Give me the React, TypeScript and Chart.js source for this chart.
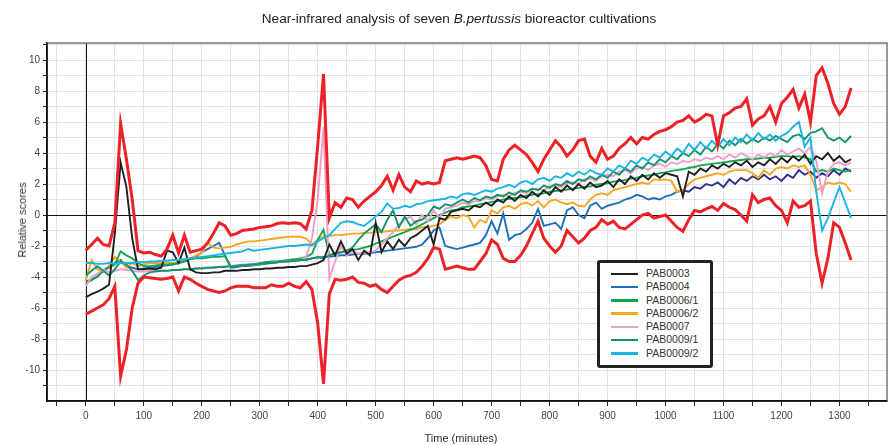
import React, { useEffect, useRef } from "react";
import { Chart, registerables } from "chart.js";

Chart.register(...registerables);

// ---- data ----
const minutes = [
  0, 10, 20, 30, 40, 50, 60, 70, 80, 90,
  100, 110, 120, 130, 140, 150, 160, 170, 180, 190,
  200, 210, 220, 230, 240, 250, 260, 270, 280, 290,
  300, 310, 320, 330, 340, 350, 360, 370, 380, 390,
  400, 410, 420, 430, 440, 450, 460, 470, 480, 490,
  500, 510, 520, 530, 540, 550, 560, 570, 580, 590,
  600, 610, 620, 630, 640, 650, 660, 670, 680, 690,
  700, 710, 720, 730, 740, 750, 760, 770, 780, 790,
  800, 810, 820, 830, 840, 850, 860, 870, 880, 890,
  900, 910, 920, 930, 940, 950, 960, 970, 980, 990,
  1000, 1010, 1020, 1030, 1040, 1050, 1060, 1070, 1080, 1090,
  1100, 1110, 1120, 1130, 1140, 1150, 1160, 1170, 1180, 1190,
  1200, 1210, 1220, 1230, 1240, 1250, 1260, 1270, 1280, 1290,
  1300, 1310, 1320,
];

const upperLimit = [
  -2.27, -1.9, -1.5, -1.9, -2.0, -0.5, 5.9, 3.6, 1.0, -2.3,
  -2.45, -2.4, -2.55, -2.65, -2.2, -1.3, -2.45, -1.3, -2.4, -2.3,
  -2.2, -1.8, -1.2, -0.5, -0.7, -1.3, -1.2, -1.0, -0.95, -0.9,
  -0.8, -0.75, -0.7, -0.55, -0.5, -0.55, -0.5, -0.55, -0.9, 0.3,
  4.5, 9.1, -0.2, 0.8, 0.5, 1.1, 1.0, 0.5, 0.9, 1.2,
  1.5, 1.9, 2.5, 1.6, 2.6, 1.8, 1.5, 2.2, 2.0, 2.1,
  2.0, 2.1, 3.5, 3.6, 3.7, 3.6, 3.7, 3.8, 3.7, 3.2,
  2.3, 2.2, 3.6, 4.2, 4.5, 4.2, 3.9, 3.4, 2.8, 3.6,
  4.2, 4.8, 4.4, 3.8, 4.2, 4.8, 4.9, 3.8, 3.4, 4.3,
  3.6, 3.8, 4.3, 4.6, 5.0, 4.6, 5.0, 4.9, 5.2, 5.4,
  5.5, 5.7, 6.0, 6.1, 6.4, 6.0, 6.2, 6.5, 6.4, 4.5,
  6.4, 6.6, 6.9, 7.0, 7.5, 5.8, 6.2, 6.4, 7.0, 6.0,
  7.2, 7.6, 8.1, 6.9, 7.8, 6.0, 9.0, 9.5, 8.5, 7.2,
  6.5, 7.0, 8.2,
];

const lowerLimit = [
  -6.4, -6.2, -6.0, -5.8, -5.4, -4.6, -10.4, -8.7, -6.0, -4.4,
  -4.0, -4.05, -4.1, -4.15, -4.1, -4.0, -4.9, -4.0, -4.15, -4.4,
  -4.6, -4.8, -4.9, -5.0, -4.9, -4.7, -4.6, -4.6, -4.6, -4.7,
  -4.7, -4.7, -4.5, -4.6, -4.6, -4.4, -4.6, -4.7, -4.3, -4.8,
  -7.0, -10.9, -5.1, -4.15, -4.2, -4.15, -4.0, -4.35, -4.4, -4.6,
  -4.5, -4.8, -5.0, -4.6, -4.2, -4.0, -3.9, -3.7, -3.3, -2.8,
  -2.1, -2.2, -3.5, -3.4, -3.3, -3.4, -3.5, -3.5, -3.0, -2.5,
  -1.6, -1.9, -2.8, -3.0, -3.0, -2.6, -2.0, -1.2, -0.4, -1.5,
  -2.0, -2.4, -2.0, -1.0, -1.4, -1.8, -1.5, -1.0, -0.8, -0.3,
  -0.6, -0.4, -0.8, -0.9, -0.6, -0.3, 0.0, 0.1, -0.2, -0.1,
  0.0, -0.4, -0.8, -1.05, -0.3, 0.3, 0.2, 0.4, 0.55, 0.3,
  0.75, 0.5, 0.35, 0.0, -0.4, 1.3, 0.8, 1.0, 1.1, 0.6,
  0.3, -0.5, 0.9, 0.5, 0.6, 0.9, -2.5, -4.4, -2.8, -0.5,
  -0.8, -1.8, -2.9,
];

const pab0003 = [
  -5.3, -5.1, -4.95, -4.75, -4.5, -1.2, 3.4, 1.8, -1.5, -3.5,
  -3.5, -3.45, -3.5, -3.4, -2.3, -2.4, -3.1, -2.1, -3.5, -3.7,
  -3.75, -3.75, -3.7, -3.7, -3.6, -3.6, -3.6, -3.55, -3.55, -3.5,
  -3.5, -3.45, -3.45, -3.4, -3.4, -3.35, -3.35, -3.3, -3.3, -3.2,
  -3.1, -2.9, -1.9, -2.6, -1.7, -2.5, -2.2, -2.9, -2.3, -2.6,
  -0.5, -2.4, -1.7, -2.2, -1.6, -2.0, -1.5, -1.3, -1.0, -0.7,
  -1.9, -0.2, -0.3, 0.2, 0.3, 0.4, 0.3, 0.6, 0.5, 0.8,
  0.6, 1.0, 0.8, 1.2, 0.9, 1.3, 1.1, 1.5, 1.2, 1.6,
  1.3, 1.8, 1.5, 1.9, 1.6, 2.0, 1.7, 2.1, 1.8, 1.9,
  2.2, 1.8, 2.3, 2.0, 2.5, 2.2, 2.6, 2.3, 2.7, 2.4,
  2.7, 2.6, 2.5, 1.2, 2.8, 2.6, 3.0, 2.8, 3.2, 3.0,
  3.3, 3.1, 3.4, 3.2, 3.5, 3.1, 3.4, 3.2, 3.6, 3.3,
  3.7, 3.4, 3.8, 3.5, 3.9, 3.3, 3.8, 3.6, 4.0, 3.5,
  3.8, 3.4, 3.6,
];

const pab0004 = [
  -4.4, -4.2, -3.95, -3.6, -3.3, -3.1, -2.9, -3.3, -3.4, -3.5,
  -3.45, -3.4, -3.35, -3.3, -3.25, -3.2, -3.1, -2.95, -2.8, -2.7,
  -2.4, -2.2, -2.0, -1.8, -2.6, -3.4, -3.35, -3.3, -3.3, -3.25,
  -3.2, -3.15, -3.1, -3.05, -3.0, -2.95, -2.95, -2.9, -2.85, -2.8,
  -2.75, -2.7, -2.7, -2.65, -2.6, -2.6, -2.55, -2.5, -2.5, -2.45,
  -2.4, -2.35, -2.3, -2.25, -2.2, -2.15, -2.1, -2.05, -1.9, -1.5,
  -1.0, -0.8, -2.0, -2.1, -2.2, -2.1, -2.0, -1.9, -1.8, -1.3,
  -0.4, -1.2, 0.1, -1.6, -1.3, -1.2, -0.9, -0.5, 0.4, -0.7,
  -0.6, -0.5, -0.9, 0.3, 0.5, 0.0, -0.2, 0.6, 0.8, 0.4,
  0.6, 0.7, 0.8, 1.0, 1.1, 1.3, 1.2, 1.0, 1.1, 1.0,
  1.2, 1.3, 1.5, 1.6, 1.5, 1.8, 1.7, 2.0, 1.9, 2.1,
  1.8, 2.3, 2.0, 2.4, 2.2, 2.5, 2.3, 2.6, 2.3, 2.5,
  2.2, 2.6, 2.4, 2.9, 2.6, 2.8, 2.4, 2.7, 2.5, 2.9,
  2.6, 3.0, 2.8,
];

const pab0006a = [
  -4.3, -4.15, -4.0, -3.6, -3.4, -3.2, -2.35, -2.6, -2.8, -3.1,
  -3.3, -3.3, -3.25, -3.2, -3.2, -3.15, -3.1, -3.0, -2.85, -2.8,
  -2.8, -2.75, -2.7, -2.7, -2.65, -3.3, -3.25, -3.2, -3.2, -3.15,
  -3.1, -3.05, -3.0, -3.0, -2.95, -2.9, -2.85, -2.8, -2.7, -2.5,
  -1.6, -0.95, -2.6, -2.45, -2.4, -2.3, -2.25, -2.2, -2.1, -2.0,
  -1.85, -1.7, -1.55, -1.4, -1.25, -1.1, -0.95, -0.8, -0.6, -0.4,
  -0.2, 0.0, 0.15, 0.3, 0.35, 0.5, 0.55, 0.6, 0.7, 0.75,
  0.85, 0.9, 1.0, 1.05, 1.1, 1.15, 1.25, 1.3, 1.35, 1.4,
  1.5, 1.55, 1.6, 1.65, 1.7, 1.75, 1.8, 1.85, 1.95, 2.0,
  2.05, 2.15, 2.2, 2.25, 2.35, 2.4, 2.5, 2.55, 2.6, 2.7,
  2.75, 2.85, 2.9, 2.95, 3.05, 3.1, 3.2, 3.25, 3.3, 3.35,
  3.4, 3.45, 3.5, 3.55, 3.6, 3.6, 3.65, 3.7, 3.7, 3.75,
  3.8, 3.8, 3.75, 3.8, 3.7, 3.6, 2.8, 2.9, 2.8, 3.0,
  2.9, 2.8, 2.9,
];

const pab0006b = [
  -4.2, -2.9, -3.5, -3.7, -3.3, -2.7, -3.0, -3.4, -3.1, -3.3,
  -3.2, -3.1, -3.1, -3.1, -3.1, -3.1, -3.1, -3.0, -2.8, -2.6,
  -2.45, -1.8, -2.1, -2.15, -2.1, -2.05, -1.9, -1.8, -1.7, -1.7,
  -1.65, -1.6, -1.55, -1.5, -1.45, -1.4, -1.4, -1.4, -1.5, -1.9,
  -1.6, -1.4, -1.35, -1.3, -1.3, -1.25, -1.2, -1.2, -1.15, -1.15,
  -1.1, -1.1, -1.05, -1.0, -1.0, -0.95, -0.9, -0.9, -0.8, -0.75,
  -0.7, -0.6, -0.3, -0.1, -0.2, 0.0, -0.1, -0.8, -0.3, -0.5,
  0.3, 0.1, 0.5, 0.6, 0.4, 0.7, 0.8, 0.6, 0.9, 0.5,
  0.9, 1.0, 0.8, 0.7, 0.8, 0.6, 0.55, 1.0, 1.3, 1.4,
  1.3, 1.6, 1.7, 1.8, 1.9, 2.0, 2.1, 2.0, 2.3, 2.25,
  2.3, 2.2, 1.5, 1.6, 2.0, 2.3, 2.4, 2.5, 2.6, 2.7,
  2.6, 2.8, 2.9, 2.9, 2.9, 2.7, 2.4, 2.9, 2.6, 3.0,
  3.1, 3.0, 3.2, 3.1, 3.2, 2.6, 1.6, 1.8, 2.1, 2.0,
  2.1, 2.0, 1.5,
];

const pab0007 = [
  -4.6, -4.0, -3.8, -3.5, -3.7, -3.6, -3.5, -3.55, -3.6, -3.65,
  -3.65, -3.6, -3.6, -3.6, -3.6, -3.55, -3.55, -3.5, -3.5, -3.45,
  -3.4, -3.4, -3.35, -3.35, -3.3, -3.3, -3.3, -3.25, -3.2, -3.2,
  -3.15, -3.1, -3.1, -3.05, -3.0, -3.0, -2.95, -2.9, -2.7, -1.5,
  1.0, 5.7, -4.1, -3.0, -2.0, -2.6, -2.3, -2.5, -2.45, -2.4,
  -2.3, -1.9, -1.5, -1.1, -0.6, -0.3, -0.1, -0.6, 0.0, -0.4,
  0.3, -0.2, 0.4, 0.5, 0.6, 0.8, 0.7, 0.9, 0.9, 1.1,
  1.0, 1.2, 1.3, 1.2, 1.45, 1.5, 1.4, 1.65, 1.7, 1.6,
  1.85, 1.9, 1.8, 2.05, 2.1, 2.0, 2.3, 2.35, 2.2, 2.5,
  2.6, 2.5, 2.8, 2.9, 2.7, 3.0, 3.1, 2.9, 3.2, 3.3,
  3.1, 3.4, 3.3, 3.5, 3.4, 3.6, 3.5, 3.7, 3.6, 3.8,
  3.6, 3.9, 3.7, 4.0, 3.8, 3.6, 3.9, 3.7, 4.0, 3.8,
  4.2, 3.9, 4.1, 4.3, 4.0, 4.4, 3.5, 1.4, 2.8, 3.3,
  3.4, 3.2, 3.4,
];

const pab0009a = [
  -3.9, -3.6, -3.3, -3.6, -3.9, -3.5, -3.0, -3.2, -3.6, -4.2,
  -3.9, -3.7, -3.65, -3.6, -3.6, -3.55, -3.55, -3.5, -3.5, -3.45,
  -3.45, -3.4, -3.4, -3.35, -3.35, -3.3, -3.3, -3.25, -3.2, -3.2,
  -3.15, -3.1, -3.1, -3.05, -3.0, -3.0, -2.95, -2.9, -2.9, -2.8,
  -2.7, -2.8, -2.6, -2.5, -2.4, -2.3, -2.1, -1.6, -1.2, -0.9,
  -0.6, -1.1, -0.3, 0.3, -0.8, -0.1, -0.7, -0.4, -0.3, 0.0,
  0.55, 0.4, 0.7, 0.6, 0.8, 1.0, 0.8, 1.1, 0.95, 1.2,
  1.1, 1.3, 1.2, 1.45, 1.3, 1.6, 1.5, 1.7, 1.6, 1.9,
  1.75, 2.0, 1.9, 2.2, 2.0, 2.3, 2.2, 2.5, 2.3, 2.6,
  2.4, 2.8, 2.6, 3.0, 2.8, 3.2, 3.0, 3.4, 3.2, 3.6,
  3.4, 3.8, 3.6, 4.0, 3.8, 4.2, 3.9, 4.4, 4.1, 4.6,
  4.3, 4.8, 4.5, 4.9, 4.6, 4.9, 4.7, 5.0, 4.8, 5.1,
  4.9, 4.7, 5.1, 5.2, 4.9, 5.3, 5.4, 5.6, 5.0, 4.8,
  5.0, 4.7, 5.1,
];

const pab0009b = [
  -3.1, -3.1, -3.15, -3.15, -3.1, -3.15, -3.1, -3.1, -3.1, -3.05,
  -3.05, -3.0, -3.0, -2.95, -2.95, -2.9, -2.9, -2.85, -2.8, -2.75,
  -2.7, -2.65, -2.6, -2.55, -2.5, -2.45, -2.4, -2.35, -2.2, -2.3,
  -2.25, -2.2, -2.15, -2.1, -2.05, -2.0, -2.0, -1.95, -1.9, -1.95,
  -1.7, -1.5, -1.3, -0.9, -0.5, -0.4, -0.45, -0.6, -0.7, -0.4,
  -0.1, 0.2, 0.75, 0.4, 0.45, 0.6, 0.5, 0.7, 0.75, 0.9,
  0.95, 1.0, 1.05, 1.2, 1.1, 1.35, 1.4, 1.3, 1.45, 1.6,
  1.5, 1.7, 1.8, 1.95, 1.8, 2.1, 2.2, 2.0, 2.3, 2.4,
  2.2, 2.5, 2.4, 2.7, 2.5, 2.8, 2.6, 2.9, 2.7, 2.6,
  3.0, 2.8, 3.2, 3.0, 3.5, 3.3, 3.7, 3.5, 3.9, 3.7,
  4.1, 3.8, 4.3, 4.0, 4.6, 4.2, 4.7, 4.3, 4.8, 4.4,
  4.9, 4.5, 5.0, 4.7, 5.2, 4.8, 5.3, 4.9, 5.2, 4.8,
  5.1, 5.3, 5.7, 6.0, 4.4, 5.0, 1.5, -1.0, -0.2, 0.8,
  1.8, 0.8, -0.2,
];

const seriesNames = ["PAB0003", "PAB0004", "PAB0006/1", "PAB0006/2", "PAB0007", "PAB0009/1", "PAB0009/2"];
const seriesColors = ["#231f20", "#1f6fbf", "#0fa84a", "#f6a823", "#f19ccb", "#11946a", "#19b4e6"];
const seriesValues = [pab0003, pab0004, pab0006a, pab0006b, pab0007, pab0009a, pab0009b];
const limitColor = "#ec2227";
const lateBlueColor = "#2b3090";
const lateBlueFrom = 1020;

const xTickValues = [-50, 0, 50, 100, 150, 200, 250, 300, 350, 400, 450, 500, 550, 600, 650, 700, 750, 800, 850, 900, 950, 1000, 1050, 1100, 1150, 1200, 1250, 1300, 1350];
const yTickValues = [-11, -10, -9, -8, -7, -6, -5, -4, -3, -2, -1, 0, 1, 2, 3, 4, 5, 6, 7, 8, 9, 10, 11];

const FONT = '"Liberation Sans", Arial, Helvetica, sans-serif';

const toPoints = (vals: number[]) => minutes.map((t, i) => ({ x: t, y: vals[i] }));

const framePlugin = {
  id: "frameAndZero",
  beforeDatasetsDraw(chart: any) {
    const { ctx, chartArea: a, scales } = chart;
    const x0 = Math.round(scales.x.getPixelForValue(0)) + 0.5;
    const y0 = Math.round(scales.y.getPixelForValue(0)) + 0.5;
    ctx.save();
    ctx.strokeStyle = "#111";
    ctx.lineWidth = 1;
    ctx.beginPath();
    ctx.moveTo(x0, a.top);
    ctx.lineTo(x0, a.bottom);
    ctx.moveTo(a.left, y0);
    ctx.lineTo(a.right, y0);
    ctx.stroke();
    ctx.restore();
  },
  afterDraw(chart: any) {
    const { ctx, chartArea: a } = chart;
    ctx.save();
    ctx.strokeStyle = "#777";
    ctx.lineWidth = 1.5;
    ctx.beginPath();
    ctx.moveTo(a.left, a.top);
    ctx.lineTo(a.right, a.top);
    ctx.lineTo(a.right, a.bottom);
    ctx.stroke();
    ctx.strokeStyle = "#111";
    ctx.beginPath();
    ctx.moveTo(a.left, a.top);
    ctx.lineTo(a.left, a.bottom);
    ctx.lineTo(a.right, a.bottom);
    ctx.stroke();
    ctx.restore();
  },
};

export default function App() {
  const canvasRef = useRef<HTMLCanvasElement | null>(null);

  useEffect(() => {
    const canvas = canvasRef.current;
    if (!canvas) return;

    const limitDs = (label: string, vals: number[]) => ({
      label,
      data: toPoints(vals),
      borderColor: limitColor,
      borderWidth: 3,
      pointRadius: 0,
      fill: false,
    });

    const seriesDs = seriesNames.map((name, i) => {
      const ds: any = {
        label: name,
        data: toPoints(seriesValues[i]),
        borderColor: seriesColors[i],
        borderWidth: 1.9,
        pointRadius: 0,
        fill: false,
      };
      if (name === "PAB0004") {
        ds.segment = {
          borderColor: (c: any) => (c.p0.parsed.x >= lateBlueFrom ? lateBlueColor : undefined),
        };
      }
      return ds;
    });

    // drawing order: first dataset ends up on top
    const ordered = [
      limitDs("Upper limit", upperLimit),
      limitDs("Lower limit", lowerLimit),
      seriesDs[6],
      seriesDs[0],
      seriesDs[5],
      seriesDs[4],
      seriesDs[2],
      seriesDs[3],
      seriesDs[1],
    ];

    const chart = new Chart(canvas, {
      type: "line",
      data: { datasets: ordered as any },
      plugins: [framePlugin],
      options: {
        animation: false,
        responsive: false,
        maintainAspectRatio: false,
        layout: { padding: { top: 43, right: 6, left: 0, bottom: 0 } },
        plugins: {
          legend: { display: false },
          title: { display: false },
          tooltip: { enabled: false },
        },
        elements: { point: { radius: 0 }, line: { tension: 0 } },
        scales: {
          x: {
            type: "linear",
            min: -67,
            max: 1382,
            afterBuildTicks: (s: any) => {
              s.ticks = xTickValues.map((v) => ({ value: v }));
            },
            afterFit: (s: any) => {
              s.height = 44;
            },
            ticks: {
              autoSkip: false,
              maxRotation: 0,
              padding: 4,
              color: "#444",
              font: { family: FONT, size: 10 },
              callback: (v: any) => (Number(v) % 100 === 0 ? String(v) : ""),
            },
            grid: { color: "#e3e3e3", lineWidth: 1, tickColor: "#222", tickLength: 5 },
            border: { display: true, color: "#111", width: 1.5 },
          },
          y: {
            type: "linear",
            min: -12,
            max: 11.1,
            afterBuildTicks: (s: any) => {
              s.ticks = yTickValues.map((v) => ({ value: v }));
            },
            afterFit: (s: any) => {
              s.width = 47;
            },
            ticks: {
              autoSkip: false,
              padding: 3,
              color: "#444",
              font: { family: FONT, size: 10 },
              callback: (v: any) => (Number(v) % 2 === 0 ? String(v) : ""),
            },
            grid: { color: "#e3e3e3", lineWidth: 1, tickColor: "#222", tickLength: 4 },
            border: { display: true, color: "#111", width: 1.5 },
          },
        },
      },
    });

    return () => chart.destroy();
  }, []);

  return (
    <div style={{ position: "absolute", left: 0, top: 0, width: 893, height: 445, background: "#fff", fontFamily: FONT }}>
      <canvas ref={canvasRef} width={893} height={445} style={{ position: "absolute", left: 0, top: 0, width: 893, height: 445 }} />
      <div
        style={{
          position: "absolute",
          left: 459,
          top: 18,
          transform: "translate(-50%, -50%)",
          whiteSpace: "nowrap",
          fontSize: 13.6,
          color: "#222",
        }}
      >
        Near-infrared analysis of seven <i>B.pertussis</i> bioreactor cultivations
      </div>
      <div
        style={{
          position: "absolute",
          left: 22,
          top: 220,
          transform: "translate(-50%, -50%) rotate(-90deg)",
          whiteSpace: "nowrap",
          fontSize: 11,
          color: "#333",
        }}
      >
        Relative scores
      </div>
      <div
        style={{
          position: "absolute",
          left: 461,
          top: 438,
          transform: "translate(-50%, -50%)",
          whiteSpace: "nowrap",
          fontSize: 11,
          color: "#333",
        }}
      >
        Time (minutes)
      </div>
      <div
        style={{
          position: "absolute",
          left: 597,
          top: 260,
          width: 116,
          height: 108,
          boxSizing: "border-box",
          border: "3px solid #222",
          borderRadius: 3,
          background: "#fff",
          paddingTop: 4,
        }}
      >
        {seriesNames.map((name, i) => (
          <div key={name} style={{ position: "relative", height: 13.3, lineHeight: "13.3px" }}>
            <span
              style={{
                position: "absolute",
                left: 11,
                top: 5.5,
                width: 27,
                height: 2.5,
                background: seriesColors[i],
              }}
            />
            <span style={{ position: "absolute", left: 46, top: 0, fontSize: 10.5, color: "#333", whiteSpace: "nowrap" }}>
              {name}
            </span>
          </div>
        ))}
      </div>
    </div>
  );
}
